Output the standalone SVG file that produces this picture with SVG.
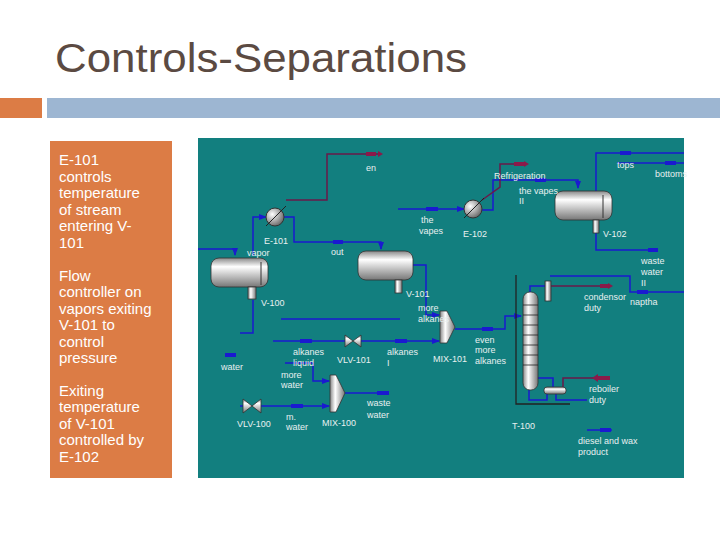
<svg xmlns="http://www.w3.org/2000/svg" width="720" height="540" viewBox="0 0 720 540">
<defs>
<linearGradient id="gv" x1="0" y1="0" x2="0" y2="1"><stop offset="0" stop-color="#888"/><stop offset="0.3" stop-color="#fff"/><stop offset="1" stop-color="#777"/></linearGradient>
<linearGradient id="gh" x1="0" y1="0" x2="1" y2="0"><stop offset="0" stop-color="#888"/><stop offset="0.35" stop-color="#fff"/><stop offset="1" stop-color="#777"/></linearGradient>
<radialGradient id="gr" cx="0.35" cy="0.35" r="0.7"><stop offset="0" stop-color="#fff"/><stop offset="1" stop-color="#666"/></radialGradient>
<marker id="ab" markerWidth="8" markerHeight="6" refX="7" refY="3" orient="auto" markerUnits="userSpaceOnUse"><path d="M0,0 L8,3 L0,6 z" fill="#1a1ad0"/></marker>
</defs>
<style>
.t{font-family:"Liberation Sans",Arial,sans-serif}
.w{font-family:"Liberation Sans",Arial,sans-serif;fill:#fff;font-size:15px}
.s{font-family:"Liberation Sans",Arial,sans-serif;fill:#e8f0f0;font-size:9px}
.b{stroke:#1a1ad0;stroke-width:1.5;fill:none}
.m{stroke:#6a1a4a;stroke-width:1.5;fill:none}
.k{stroke:#222;stroke-width:1.3;fill:none}
.ba{fill:#1a1ad0}
.ma{fill:#8a1a4a}
.v{fill:url(#gv);stroke:#333;stroke-width:0.8}
.h{fill:url(#gh);stroke:#333;stroke-width:0.8}
</style>
<rect width="720" height="540" fill="#fff"/>
<text class="t" x="55" y="72" font-size="40" fill="#5b4a42" textLength="412" lengthAdjust="spacingAndGlyphs">Controls-Separations</text>
<rect x="0" y="98" width="42" height="20" fill="#dc7c45"/>
<rect x="47" y="98" width="673" height="20" fill="#9db6d2"/>
<g id="panel">
<rect x="50" y="141" width="122" height="337" fill="#dc7c45"/>
<text class="w"><tspan x="59" y="165">E-101</tspan><tspan x="59" y="181.5">controls</tspan><tspan x="59" y="198">temperature</tspan><tspan x="59" y="214.5">of  stream</tspan><tspan x="59" y="231">entering V-</tspan><tspan x="59" y="247.5">101</tspan><tspan x="59" y="280.5">Flow</tspan><tspan x="59" y="297">controller on</tspan><tspan x="59" y="313.5">vapors exiting</tspan><tspan x="59" y="330">V-101 to</tspan><tspan x="59" y="346.5">control</tspan><tspan x="59" y="363">pressure</tspan><tspan x="59" y="395.5">Exiting</tspan><tspan x="59" y="412">temperature</tspan><tspan x="59" y="428.5">of V-101</tspan><tspan x="59" y="445">controlled by</tspan><tspan x="59" y="461.5">E-102</tspan></text>
</g>
<rect x="198" y="138" width="486" height="340" fill="#127f7f"/>
<g id="connectors">
<path class="b" d="M198,249 H235 V255" marker-end="url(#ab)"/>
<path class="b" d="M253,256 V217 H266" marker-end="url(#ab)"/>
<path class="b" d="M284,217 H294 V242 H381 V249" marker-end="url(#ab)"/>
<path class="m" d="M286,200 H327 V154 H378"/>
<path class="b" d="M398,209 H464" marker-end="url(#ab)"/>
<path class="b" d="M482,210 H493 V180 H578 V188" marker-end="url(#ab)"/>
<path class="m" d="M482,200 L500,187 V164 H524"/>
<path class="b" d="M596,191 V153 H684"/>
<path class="b" d="M617,163 H684"/>
<path class="b" d="M596,233 V250 H658"/>
<path class="b" d="M413,265 H426 V315 H439" marker-end="url(#ab)"/>
<path class="b" d="M281,319 H400"/>
<path class="b" d="M253,300 V333 H240"/>
<path class="b" d="M273,341 H345"/>
<path class="b" d="M361,341 H439" marker-end="url(#ab)"/>
<path class="b" d="M285,363 H313 V381 H329" marker-end="url(#ab)"/>
<path class="b" d="M345,393 H385"/>
<path class="b" d="M240,406 H243"/>
<path class="b" d="M261,406 H329" marker-end="url(#ab)"/>
<path class="b" d="M455,329 H505 V316 H521" marker-end="url(#ab)"/>
<path class="b" d="M530,295 V286 H545"/>
<path class="b" d="M550,276 H630 V292 H684"/>
<path class="m" d="M551,286 H608"/>
<path class="k" d="M516,275 V404 H570"/>
<path class="b" d="M538,378 H553 V387"/>
<path class="b" d="M529,390 V400 H547 V394"/>
<path class="b" d="M556,394 V400 H587"/>
<path class="m" d="M563,387 V378 H610"/>
<path class="b" d="M587,430 H612"/>
<g class="ba">
<rect x="225" y="353" width="11" height="4"/><rect x="300" y="339" width="12" height="4"/><rect x="395" y="339" width="12" height="4"/><rect x="291" y="404" width="12" height="4"/><rect x="377" y="391" width="12" height="4"/><rect x="333" y="240" width="10" height="4"/><rect x="426" y="207" width="12" height="4"/><rect x="535" y="178" width="11" height="4"/><rect x="620" y="151" width="11" height="4"/><rect x="665" y="161" width="11" height="4"/><rect x="648" y="248" width="10" height="4"/><rect x="637" y="290" width="11" height="4"/><rect x="482" y="327" width="11" height="4"/><rect x="600" y="428" width="11" height="4"/>
</g>
<g class="ma"><rect x="366" y="152" width="10" height="4"/><rect x="514" y="162" width="10" height="4"/><rect x="600" y="284" width="8" height="4"/><rect x="598" y="376" width="12" height="4"/><path d="M378,151 L383,154 L378,157z"/><path d="M524,161 L529,164 L524,167z"/><path d="M608,283 L613,286 L608,289z"/><path d="M598,374 L592,378 L598,382z"/></g>
</g>
<g id="E-101"><circle cx="275" cy="217" r="9" fill="url(#gr)" stroke="#333"/><path d="M266,226 L286,206" stroke="#222" stroke-width="1"/></g>
<g id="E-102"><circle cx="473" cy="209" r="9" fill="url(#gr)" stroke="#333"/><path d="M464,218 L484,198" stroke="#222" stroke-width="1"/></g>
<g id="V-100"><rect x="211" y="258" width="57" height="29" rx="8" class="v"/><line x1="261" y1="262" x2="261" y2="285" stroke="#333"/><rect x="248" y="287" width="8" height="12" class="h"/></g>
<g id="V-101"><rect x="358" y="251" width="55" height="29" rx="8" class="v"/><rect x="395" y="280" width="7" height="13" class="h"/></g>
<g id="V-102"><rect x="555" y="191" width="57" height="29" rx="8" class="v"/><line x1="603" y1="195" x2="603" y2="218" stroke="#333"/><rect x="593" y="220" width="6" height="13" class="h"/></g>
<g id="T-100"><rect x="523" y="292" width="15" height="98" rx="7" class="h"/><g stroke="#222" stroke-width="0.8"><line x1="523" y1="305" x2="538" y2="305"/><line x1="523" y1="315" x2="538" y2="315"/><line x1="523" y1="325" x2="538" y2="325"/><line x1="523" y1="335" x2="538" y2="335"/><line x1="523" y1="345" x2="538" y2="345"/><line x1="523" y1="355" x2="538" y2="355"/><line x1="523" y1="365" x2="538" y2="365"/></g><rect x="545" y="281" width="6" height="20" class="h"/><rect x="544" y="387" width="22" height="7" rx="3" class="v"/></g>
<g id="VLV-101"><path d="M345,335 L361,347 V335 L345,347z" fill="url(#gv)" stroke="#333" stroke-width="0.8"/></g>
<g id="VLV-100"><path d="M243,399 L261,413 V399 L243,413z" fill="url(#gv)" stroke="#333" stroke-width="0.8"/></g>
<g id="MIX-101"><path d="M440,311 H447 L455,327 L447,343 H440z" class="h"/></g>
<g id="MIX-100"><path d="M330,375 H336 L345,393 L336,412 H330z" class="h"/></g>
<g id="labels" class="s">
<text x="366" y="171">en</text><text x="264" y="244">E-101</text><text x="247" y="256">vapor</text><text x="331" y="255">out</text>
<text x="421" y="223">the</text><text x="419" y="234">vapes</text><text x="261" y="306">V-100</text><text x="406" y="297">V-101</text>
<text x="494" y="179">Refrigeration</text><text x="519" y="194">the vapes</text><text x="519" y="204">II</text><text x="463" y="237">E-102</text>
<text x="617" y="168">tops</text><text x="655" y="177">bottoms</text><text x="603" y="237">V-102</text>
<text x="641" y="264">waste</text><text x="641" y="275">water</text><text x="641" y="286">II</text>
<text x="584" y="300">condensor</text><text x="584" y="311">duty</text><text x="630" y="305">naptha</text>
<text x="418" y="311">more</text><text x="418" y="322">alkanes</text>
<text x="475" y="343">even</text><text x="475" y="353">more</text><text x="475" y="364">alkanes</text><text x="433" y="362">MIX-101</text>
<text x="293" y="355">alkanes</text><text x="293" y="366">liquid</text><text x="337" y="363">VLV-101</text><text x="387" y="355">alkanes</text><text x="387" y="366">I</text>
<text x="221" y="370">water</text><text x="281" y="378">more</text><text x="281" y="388">water</text>
<text x="367" y="406">waste</text><text x="367" y="418">water</text>
<text x="237" y="427">VLV-100</text><text x="286" y="420">m.</text><text x="286" y="430">water</text><text x="322" y="426">MIX-100</text>
<text x="512" y="429">T-100</text><text x="589" y="392">reboiler</text><text x="589" y="403">duty</text>
<text x="578" y="444">diesel and wax</text><text x="578" y="455">product</text>
</g>
</svg>
